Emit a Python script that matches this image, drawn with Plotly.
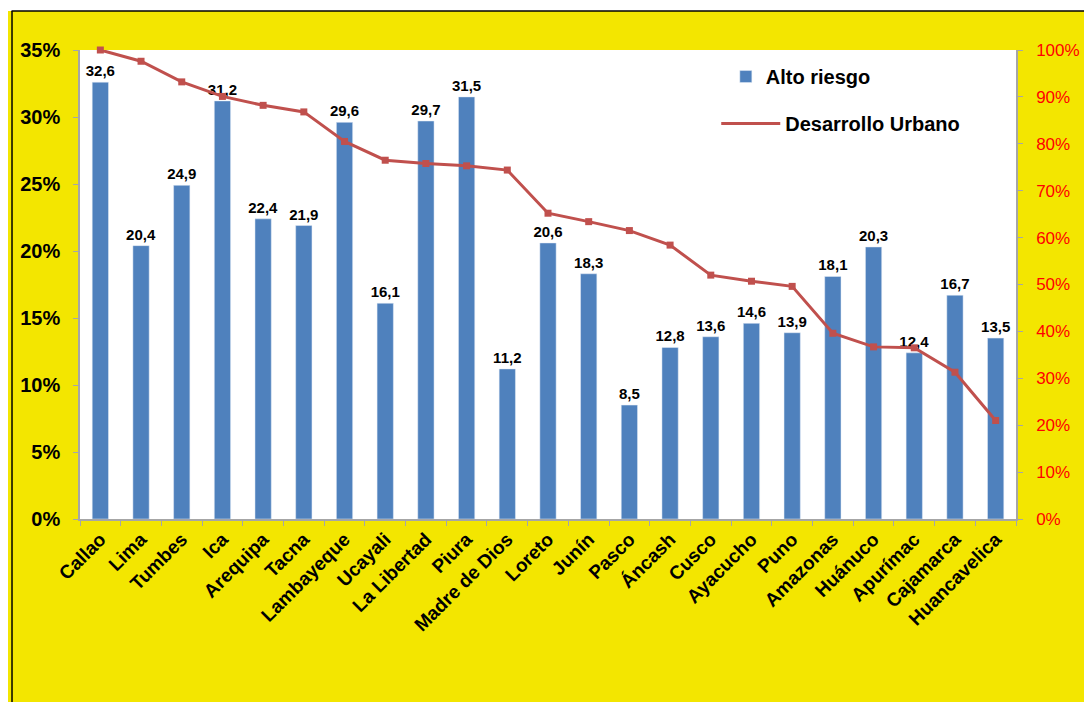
import plotly.graph_objects as go

regions = ["Callao", "Lima", "Tumbes", "Ica", "Arequipa", "Tacna", "Lambayeque", "Ucayali",
           "La Libertad", "Piura", "Madre de Dios", "Loreto", "Junín", "Pasco", "Áncash",
           "Cusco", "Ayacucho", "Puno", "Amazonas", "Huánuco", "Apurímac", "Cajamarca",
           "Huancavelica"]
alto_riesgo = [32.6, 20.4, 24.9, 31.2, 22.4, 21.9, 29.6, 16.1, 29.7, 31.5, 11.2, 20.6, 18.3,
               8.5, 12.8, 13.6, 14.6, 13.9, 18.1, 20.3, 12.4, 16.7, 13.5]
desarrollo_urbano = [100.0, 97.6, 93.2, 90.1, 88.2, 86.8, 80.5, 76.5, 75.8, 75.3, 74.4, 65.2,
                     63.4, 61.5, 58.4, 52.0, 50.7, 49.6, 39.6, 36.7, 36.5, 31.3, 21.0]
left_ticks = [0, 5, 10, 15, 20, 25, 30, 35]
right_ticks = [0, 10, 20, 30, 40, 50, 60, 70, 80, 90, 100]

bar_labels = [f"{v:.1f}".replace(".", ",") for v in alto_riesgo]

YELLOW = "#F3E600"
BLUE = "#4F81BD"
RED = "#C0504D"
AXIS = "#A6A6A6"
FONT = "Liberation Sans, Arial, sans-serif"

fig = go.Figure()
fig.add_trace(go.Bar(
    x=regions, y=alto_riesgo, name="Alto riesgo", marker_color=BLUE,
    text=bar_labels, textposition="outside", cliponaxis=False, constraintext="none",
    textfont=dict(family=FONT, size=15, color="black", weight="bold"),
    width=0.4, legend="legend",
))
fig.add_trace(go.Scatter(
    x=regions, y=desarrollo_urbano, name="Desarrollo Urbano", yaxis="y2",
    mode="lines+markers", line=dict(color=RED, width=3),
    marker=dict(symbol="square", size=7, color=RED),
    showlegend=False, cliponaxis=False,
))
# legend-only entry (line without markers, as in the original legend)
fig.add_trace(go.Scatter(
    x=[None], y=[None], name="Desarrollo Urbano", yaxis="y2", mode="lines",
    line=dict(color=RED, width=3), legend="legend2",
))

# page is rendered with an 8px body margin; plot area spans page x 77..1020, y 50..519
fig.update_layout(
    width=1084, height=694,
    margin=dict(l=69, r=72, t=42, b=183),
    paper_bgcolor=YELLOW, plot_bgcolor="white",
    font=dict(family=FONT, color="black"),
    xaxis=dict(
        range=[-0.5, len(regions) - 0.5],
        tickangle=-45, tickfont=dict(family=FONT, size=19, color="black", weight="bold"),
        showline=True, linecolor=AXIS, linewidth=1.5,
        ticks="outside", tickson="boundaries", ticklen=5, tickcolor=AXIS,
        showgrid=False,
    ),
    yaxis=dict(
        range=[0, 35], tickvals=left_ticks, ticktext=[f"{v}%" for v in left_ticks],
        tickfont=dict(family=FONT, size=20, color="black", weight="bold"),
        showline=True, linecolor=AXIS, linewidth=1.5,
        ticks="outside", ticklen=5, tickcolor=AXIS, ticklabelstandoff=9,
        showgrid=False, zeroline=False,
    ),
    yaxis2=dict(
        range=[0, 100], tickvals=right_ticks, ticktext=[f"{v}%" for v in right_ticks],
        overlaying="y", side="right",
        tickfont=dict(family=FONT, size=17, color="#FF0000"),
        showline=True, linecolor=AXIS, linewidth=1.5,
        ticks="outside", ticklen=5, tickcolor=AXIS, ticklabelstandoff=10,
        showgrid=False, zeroline=False,
    ),
    legend=dict(
        x=0.69, y=0.985, xanchor="left", yanchor="top",
        bgcolor="rgba(0,0,0,0)",
        font=dict(family=FONT, size=20, color="black", weight="bold"),
    ),
    legend2=dict(
        x=(718 - 77) / 943, y=0.885, xanchor="left", yanchor="top",
        bgcolor="rgba(0,0,0,0)", itemwidth=59,
        font=dict(family=FONT, size=20, color="black", weight="bold"),
    ),
    shapes=[
        # white strip above the yellow frame
        dict(type="rect", xref="paper", yref="paper",
             x0=-0.2, x1=1.2, y0=(519 - 11) / 469, y1=1.3,
             fillcolor="white", line=dict(width=0), layer="above"),
        # black frame border
        dict(type="line", xref="paper", yref="paper",
             x0=(8 - 77) / 943, x1=1.2, y0=(519 - 11) / 469, y1=(519 - 11) / 469,
             line=dict(color="black", width=1.5)),
        dict(type="line", xref="paper", yref="paper",
             x0=(8.5 - 77) / 943, x1=(8.5 - 77) / 943, y0=-0.5, y1=(519 - 11) / 469,
             line=dict(color="black", width=1.5)),
    ],
)

fig.write_html("out.html")
